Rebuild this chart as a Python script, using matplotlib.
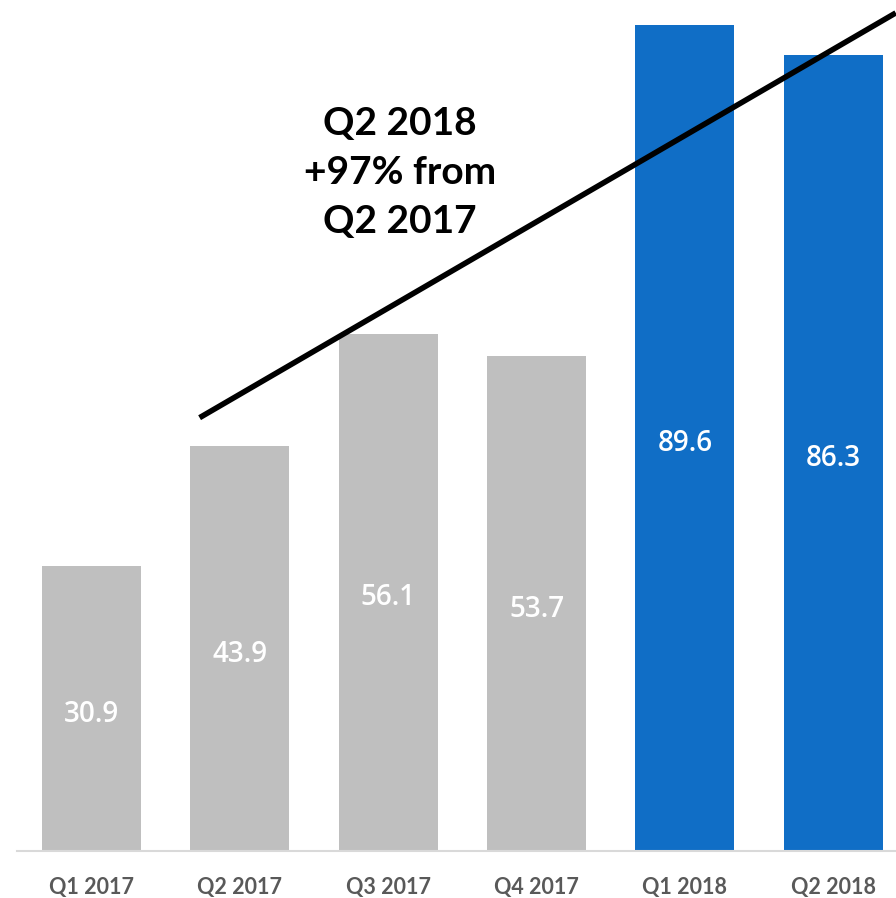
import matplotlib
matplotlib.use("Agg")
import matplotlib.pyplot as plt

# data
quarters = ["Q1 2017", "Q2 2017", "Q3 2017", "Q4 2017", "Q1 2018", "Q2 2018"]
values = [30.9, 43.9, 56.1, 53.7, 89.6, 86.3]
value_labels = ["30.9", "43.9", "56.1", "53.7", "89.6", "86.3"]
is_2018 = [False, False, False, False, True, True]
trend_x = [0.73, 5.42]
trend_y = [47.0, 90.9]
note = "Q2 2018\n+97% from\nQ2 2017"

GRAY = "#BFBFBF"
BLUE = "#106EC6"

fig = plt.figure(figsize=(8.96, 8.98), dpi=100)
ax = fig.add_axes([0.019, 0.0523, 0.994, 0.9477])

x = list(range(len(quarters)))
colors = [BLUE if b else GRAY for b in is_2018]
bars = ax.bar(x, values, width=0.667, color=colors, zorder=2)

# value labels in the middle of each bar (slightly low, like the old-style digits)
for xi, v, lab in zip(x, values, value_labels):
    ax.text(xi, v / 2 - 0.6, lab, ha="center", va="center", color="white",
            fontsize=20, family="Open Sans", fontweight="semibold", zorder=3)

# trend line
ax.plot(trend_x, trend_y, color="black", lw=4, solid_capstyle="butt", zorder=4)

ax.text(2.08, 73.6, note, ha="center", va="center", fontsize=28,
        fontweight="bold", family="Lato", linespacing=1.48, color="black")

ax.set_xlim(-0.5, len(quarters) - 0.5)
ax.set_ylim(0, 92.3)
ax.set_xticks(x)
ax.set_xticklabels(quarters, fontsize=15.5, fontweight="bold", family="Lato",
                   color="#595959")
ax.tick_params(axis="x", length=0, pad=19)
ax.set_yticks([])
for side in ["top", "right", "left"]:
    ax.spines[side].set_visible(False)
ax.spines["bottom"].set_color("#D9D9D9")
ax.spines["bottom"].set_linewidth(1.5)

fig.savefig("out.png", dpi=100)
